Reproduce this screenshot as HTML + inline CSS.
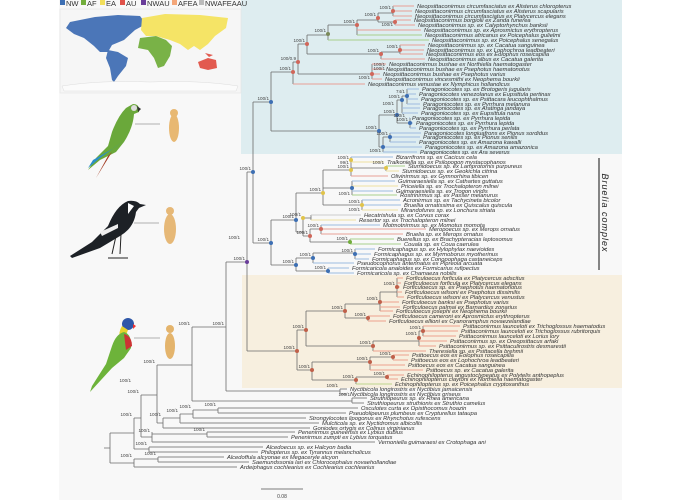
<!DOCTYPE html>
<html><head><meta charset="utf-8"><style>
html,body{margin:0;padding:0;background:#fff;}
svg{display:block;}
.l{font-family:"Liberation Sans",sans-serif;font-style:italic;font-size:5.8px;fill:#333;}
.s{font-family:"Liberation Sans",sans-serif;font-size:4.6px;fill:#444;}
</style></head><body>
<svg width="680" height="500" viewBox="0 0 680 500" xmlns="http://www.w3.org/2000/svg">
<rect x="59" y="0" width="563" height="500" fill="#f8f8f8"/>
<rect x="241" y="0" width="381" height="154" fill="#deedf0"/>
<rect x="242" y="275" width="380" height="113" fill="#f7efdf"/>
<!-- legend -->
<g font-family="Liberation Sans,sans-serif" font-size="7.5" fill="#333">
<rect x="60" y="0" width="5" height="5" fill="#3d6fb3"/><text x="66" y="6">NW</text>
<rect x="81" y="0" width="5" height="5" fill="#72ad3c"/><text x="87" y="6">AF</text>
<rect x="100" y="0" width="5" height="5" fill="#f2de5a"/><text x="106" y="6">EA</text>
<rect x="120" y="0" width="5" height="5" fill="#e0524a"/><text x="126" y="6">AU</text>
<rect x="141" y="0" width="5" height="5" fill="#6a3d9a"/><text x="147" y="6">NWAU</text>
<rect x="172" y="0" width="5" height="5" fill="#f4a77a"/><text x="178" y="6">AFEA</text>
<rect x="199" y="0" width="5" height="5" fill="#bbb"/><text x="205" y="6">NWAFEAAU</text>
</g>
<!-- map -->
<rect x="60" y="9" width="181" height="84" fill="#f6f6f6" stroke="#e4e4e4" stroke-width="0.6"/>
<path d="M70 22 L95 17 L118 15 L140 16 L146 24 L135 30 L124 40 L112 45 L108 52 L100 52 L94 46 L84 38 L74 34 L66 28Z" fill="#4b76b8"/>
<path d="M108 50 L118 52 L128 58 L126 66 L118 76 L114 82 L112 80 L110 68 L106 58Z" fill="#4b76b8"/>
<path d="M142 18 L165 14 L200 15 L228 18 L226 28 L215 36 L208 44 L200 50 L194 46 L188 50 L180 44 L170 40 L156 36 L146 36 L141 30Z" fill="#f5e466"/>
<path d="M140 38 L156 36 L166 40 L172 46 L170 56 L164 66 L158 68 L154 58 L148 50 L138 48Z" fill="#79b247"/>
<path d="M198 62 L208 58 L216 60 L217 68 L208 70 L200 68Z" fill="#e25a4f"/>
<path d="M205 53 L213 55 L209 57Z" fill="#e25a4f"/>
<path d="M62 86 Q100 80 150 82 Q200 80 238 86 L236 91 L64 91Z" fill="#fbfbfb" stroke="#ddd" stroke-width="0.5"/>
<!-- birds and lice -->
<g>
<path d="M133 104 Q140 104 139 112 L134 114 Q133 128 124 142 L116 152 L100 160 L88 170 L96 158 L108 146 L112 132 Q118 116 126 108Z" fill="#6aa83a"/>
<path d="M100 158 L88 168 L93 160 L114 148 L122 142Z" fill="#2b8fc8"/>
<path d="M108 156 L96 178 L112 152Z" fill="#a23b22"/>
<circle cx="134" cy="108" r="3" fill="#ddd"/><path d="M137 106 L141 109 L138 112Z" fill="#333"/>
<line x1="135" y1="124" x2="160" y2="124" stroke="#999" stroke-width="0.8"/>
<ellipse cx="174" cy="128" rx="5" ry="14" fill="#e8b872"/><circle cx="174" cy="113" r="4" fill="#e8b872"/>
</g>
<g>
<path d="M128 201 Q136 200 140 204 L146 205 L139 208 L136 212 Q134 228 120 236 L100 248 L72 258 L70 256 L92 242 L108 226 Q116 206 128 201Z" fill="#1d2126"/>
<path d="M100 232 L118 224 L118 228 L102 236Z" fill="#eee"/>
<path d="M128 203 L134 206 L128 214Z" fill="#fff"/>
<path d="M116 236 L112 254 M121 234 L120 254 M108 258 L128 258" stroke="#222" stroke-width="1"/>
<line x1="134" y1="223" x2="159" y2="223" stroke="#999" stroke-width="0.8"/>
<ellipse cx="170" cy="229" rx="6" ry="15" fill="#e6b877"/><circle cx="170" cy="211" r="4" fill="#e6b877"/>
</g>
<g>
<circle cx="128" cy="324" r="6" fill="#2f57a8"/>
<path d="M122 326 Q118 332 120 340 L124 340 L128 330Z" fill="#e6d22c"/>
<path d="M124 332 Q132 334 131 348 L124 358 L112 368 L90 392 L92 386 L106 364 L112 346 Q116 334 124 332Z" fill="#6db33a"/>
<path d="M124 334 Q132 336 132 346 L126 350Z" fill="#c33"/>
<path d="M133 324 L136 326 L133 329Z" fill="#e33"/>
<line x1="134" y1="338" x2="160" y2="338" stroke="#999" stroke-width="0.8"/>
<ellipse cx="170" cy="346" rx="5" ry="13" fill="#e4b46c"/><circle cx="170" cy="329" r="4" fill="#e4b46c"/>
</g>
<!-- internal branches -->
<g fill="none" stroke="#6b6b6b" stroke-width="0.8">
<path d="M104 448H110M110 433V463M110 433H134M110 463H134M134 418V449M134 449H149M149 447V452M134 459V467M134 459H158M158 457V462M134 418H141M141 395V437M141 437H152M152 432V442M152 434H207M207 432V437M141 395H157M157 365V423M157 423H163M163 418V428M163 418H180M180 414V423M180 414H193M193 410V418M193 410H218M218 408V413M157 365H192M192 327V401M192 401H352M352 398V403M192 327H226M226 262V391M226 391H340M340 389V394M226 262H247M247 172V351M247 351H297M247 172H253M253 102V243"/>
<path d="M253 102H271M271 72V131M271 72H293M293 62V84M293 62H298M298 44V74M298 74H372M372 64V79M298 44H307M307 35V54M307 54H381M381 52V59M381 52H400M400 45V54M307 35H328M328 25V40M328 25H357M357 20V35M357 20H378M378 13V22M378 22H395M395 20V25M378 13H393M393 6V16"/>
<path d="M271 131H379M379 115V147M379 115H397M397 100V123M397 100H402M402 96V113M402 96H407M407 89V104M397 123H410M410 118V128M379 147H383M383 137V152M383 137H390M390 133V142"/>
<path d="M253 243H271M271 220V265M271 220H296M296 193V232M296 193H323M323 170V205M323 170H351M351 157V176M351 168H386M386 166V171M323 188H352M352 181V195M323 205H362M362 200V210M296 232H303M303 218V236M303 218H311M311 215V220M303 236H310M310 229V242M310 229H321M321 225V234M310 242H350M350 239V244M271 265H296M296 258V271M296 258H313M313 253V263M313 253H355M355 249V259M296 271H328M328 268V273"/>
<path d="M297 330V370M297 330H306M306 311V346M306 311H345M345 304V318M345 304H380M380 292V311M380 292H397M397 278V297M345 318H368M368 316V321M306 346H373M373 341V351M373 341H419M419 331V346M419 331H423M423 326V336M297 370H312M312 362V380M312 362H370M370 357V370M370 357H393M393 355V360M312 380H356M356 377V384M356 377H387M387 375V379"/>
</g>
<!-- terminal branches -->
<g fill="none" stroke-width="0.9">
<path stroke="#e8a096" d="M393 6H414M393 11H412M393 16H412M395 20H411M395 25H415M357 30H421M400 45H425M400 50H424M400 54H423M381 59H425M372 64H386M372 69H383M372 74H380M372 79H382M293 84H365"/>
<path stroke="#a8cf8c" d="M357 35H422M328 40H429"/>
<path stroke="#9dbbe0" d="M407 89H419M407 94H416M407 99H418M407 104H420M402 108H420M402 113H418M410 118H409M410 123H413M410 128H416M390 133H421M390 137H420M390 142H416M383 147H422M383 152H417"/>
<path stroke="#9dbbe0" d="M351 157H393M352 181H395M352 191H393M362 200H400M362 205H401M321 225H380M355 249H375M355 254H371M355 259H369M313 263H354M328 268H349M328 273H354"/>
<path stroke="#eee0a0" d="M351 162H384M386 171H399M352 186H398M362 210H398M311 220H356"/>
<path stroke="#a8cf8c" d="M386 166H405M352 195H397M350 239H394M350 244H401"/>
<path stroke="#e8a096" d="M351 176H388M321 229H426M321 234H403"/>
<path stroke="#ccc" d="M311 215H361"/>
<path stroke="#eca18e" d="M397 278H403M397 283H401M397 287H400M397 292H402M397 297H404M380 302H399M380 307H400M380 311H393M368 316H390M368 321H386M423 326H460M423 331H458M423 336H456M419 341H447M419 346H436M373 351H426M393 355H409M393 360H408M370 365H405M370 370H423M387 375H404M387 379H398"/>
<path stroke="#bcd48c" d="M356 384H392"/>
<path stroke="#888" d="M340 389H347M340 394H347M352 398H367M352 403H364M218 408H358M218 413H346M193 418H306M180 423H319M163 428H310M207 432H295M207 437H288M152 442H375M149 447H263M149 452H258M158 457H224M158 462H249M134 467H237"/>
</g>
<!-- node dots -->
<g>
<circle cx="271" cy="102" r="2" fill="#3d6fb3"/><circle cx="293" cy="72" r="2" fill="#d0675a"/><circle cx="298" cy="62" r="2" fill="#d0675a"/><circle cx="307" cy="44" r="2" fill="#d0675a"/><circle cx="328" cy="34" r="2" fill="#7a8a5a"/><circle cx="357" cy="25" r="2" fill="#d0675a"/><circle cx="378" cy="18" r="2" fill="#d0675a"/><circle cx="393" cy="11" r="2" fill="#d0675a"/><circle cx="395" cy="22" r="2" fill="#d0675a"/><circle cx="381" cy="54" r="2" fill="#d0675a"/><circle cx="400" cy="50" r="2" fill="#d0675a"/><circle cx="372" cy="74" r="2" fill="#d0675a"/>
<circle cx="379" cy="131" r="2" fill="#3d6fb3"/><circle cx="397" cy="115" r="2" fill="#3d6fb3"/><circle cx="402" cy="100" r="2" fill="#3d6fb3"/><circle cx="407" cy="96" r="2" fill="#3d6fb3"/><circle cx="410" cy="123" r="2" fill="#3d6fb3"/><circle cx="383" cy="147" r="2" fill="#3d6fb3"/><circle cx="390" cy="137" r="2" fill="#3d6fb3"/>
<circle cx="253" cy="172" r="2" fill="#3d6fb3"/><circle cx="247" cy="262" r="2" fill="#6a3d9a"/><circle cx="271" cy="243" r="2" fill="#3d6fb3"/><circle cx="296" cy="220" r="2" fill="#3d6fb3"/><circle cx="323" cy="193" r="2" fill="#e0c34a"/><circle cx="351" cy="170" r="2" fill="#e0c34a"/><circle cx="351" cy="160" r="2" fill="#e0c34a"/><circle cx="386" cy="168" r="2" fill="#e0c34a"/><circle cx="352" cy="188" r="2" fill="#3d6fb3"/><circle cx="362" cy="205" r="2" fill="#e0c34a"/><circle cx="303" cy="218" r="2" fill="#e0c34a"/><circle cx="310" cy="236" r="2" fill="#d0675a"/><circle cx="321" cy="229" r="2" fill="#d0675a"/><circle cx="350" cy="242" r="2" fill="#72ad3c"/><circle cx="296" cy="265" r="2" fill="#3d6fb3"/><circle cx="313" cy="258" r="2" fill="#3d6fb3"/><circle cx="355" cy="254" r="2" fill="#3d6fb3"/><circle cx="328" cy="271" r="2" fill="#3d6fb3"/>
<circle cx="297" cy="351" r="2" fill="#c0604a"/><circle cx="306" cy="330" r="2" fill="#c0604a"/><circle cx="345" cy="311" r="2" fill="#c0604a"/><circle cx="380" cy="302" r="2" fill="#c0604a"/><circle cx="397" cy="287" r="2" fill="#c0604a"/><circle cx="368" cy="318" r="2" fill="#c0604a"/><circle cx="373" cy="346" r="2" fill="#c0604a"/><circle cx="419" cy="338" r="2" fill="#c0604a"/><circle cx="423" cy="331" r="2" fill="#c0604a"/><circle cx="312" cy="370" r="2" fill="#c0604a"/><circle cx="370" cy="362" r="2" fill="#c0604a"/><circle cx="393" cy="357" r="2" fill="#c0604a"/><circle cx="356" cy="380" r="2" fill="#c0604a"/><circle cx="387" cy="377" r="2" fill="#c0604a"/>
</g>
<!-- support labels -->
<g class="s" text-anchor="end">
<text x="269" y="100">100/1</text><text x="291" y="70">100/1</text><text x="296" y="60">100/0.9</text><text x="305" y="42">100/1</text><text x="326" y="32">100/1</text><text x="355" y="23">100/1</text><text x="376" y="16">100/1</text><text x="391" y="9">100/1</text><text x="393" y="26">100/1</text><text x="379" y="52">100/1</text><text x="398" y="48">100/1</text><text x="370" y="79">100/1</text><text x="385" y="66">100/1</text><text x="385" y="70">100/1</text>
<text x="377" y="129">100/1</text><text x="395" y="113">100/1</text><text x="400" y="98">100/1</text><text x="405" y="93">74/1</text><text x="408" y="121">100/1</text><text x="381" y="152">100/1</text><text x="388" y="135">100/1</text><text x="394" y="105">100/1</text><text x="405" y="117">100/1</text>
<text x="251" y="170">100/1</text><text x="245" y="260">100/1</text><text x="269" y="241">100/1</text><text x="294" y="218">100/1</text><text x="321" y="191">100/1</text><text x="349" y="159">100/1</text><text x="349" y="164">99/1</text><text x="349" y="168">100/1</text><text x="384" y="164">100/1</text><text x="350" y="195">100/1</text><text x="360" y="203">100/1</text><text x="360" y="211">100/1</text><text x="301" y="216">100/1</text><text x="308" y="234">100/1</text><text x="319" y="227">100/1</text><text x="348" y="240">100/1</text><text x="294" y="263">100/1</text><text x="311" y="256">100/1</text><text x="353" y="252">100/1</text><text x="326" y="269">100/1</text><text x="240" y="239">100/1</text>
<text x="295" y="349">100/1</text><text x="304" y="328">100/1</text><text x="343" y="309">100/1</text><text x="378" y="300">100/1</text><text x="395" y="285">100/1</text><text x="366" y="316">100/1</text><text x="371" y="344">100/1</text><text x="417" y="335">100/1</text><text x="421" y="329">100/1</text><text x="310" y="368">100/1</text><text x="368" y="360">100/1</text><text x="391" y="355">100/1</text><text x="354" y="378">100/1</text><text x="385" y="375">100/1</text>
<text x="224" y="325">100/1</text><text x="190" y="325">100/1</text><text x="155" y="363">100/1</text><text x="139" y="393">100/1</text><text x="338" y="387">100/1</text><text x="350" y="396">100/1</text><text x="216" y="406">100/1</text><text x="191" y="408">100/1</text><text x="178" y="412">100/1</text><text x="161" y="416">100/1</text><text x="205" y="431">100/1</text><text x="150" y="432">100/1</text><text x="147" y="445">100/1</text><text x="132" y="416">100/1</text><text x="132" y="457">100/1</text><text x="156" y="455">100/1</text><text x="131" y="382">100/1</text>
</g>
<!-- leaf labels -->
<g class="l">
<text x="417" y="8">Neopsittaconirmus circumfasciatus ex Alisterus chloropterus</text>
<text x="415" y="13">Neopsittaconirmus circumfasciatus ex Alisterus scapularis</text>
<text x="415" y="18">Neopsittaconirmus circumfasciatus ex Platycercus elegans</text>
<text x="414" y="22">Neopsittaconirmus borgiolii ex Zanda funerea</text>
<text x="418" y="27">Neopsittaconirmus sp. ex Calyptorhynchus banksii</text>
<text x="424" y="32">Neopsittaconirmus sp. ex Aprosmictus erythropterus</text>
<text x="425" y="37">Neopsittaconirmus africanus ex Poicephalus gulielmi</text>
<text x="432" y="42">Neopsittaconirmus sp. ex Poicephalus senegalus</text>
<text x="428" y="47">Neopsittaconirmus sp. ex Cacatua sanguinea</text>
<text x="427" y="52">Neopsittaconirmus sp. ex Lophochroa leadbeateri</text>
<text x="426" y="56">Neopsittaconirmus eos ex Eolophus roseicapilla</text>
<text x="428" y="61">Neopsittaconirmus albus ex Cacatua galerita</text>
<text x="389" y="66">Neopsittaconirmus bushae ex Northiella haematogaster</text>
<text x="386" y="71">Neopsittaconirmus bushae ex Psephotus haematonotus</text>
<text x="383" y="76">Neopsittaconirmus bushae ex Psephotus varius</text>
<text x="385" y="81">Neopsittaconirmus vincesmithi ex Neophema bourkii</text>
<text x="368" y="86">Neopsittaconirmus venustae ex Nymphicus hollandicus</text>
<text x="422" y="91">Paragoniocotes sp. ex Brotogeris jugularis</text>
<text x="419" y="96">Paragoniocotes venezolanus ex Eupsittula pertinax</text>
<text x="421" y="101">Paragoniocotes sp. ex Psittacara leucophthalmus</text>
<text x="423" y="106">Paragoniocotes sp. ex Pyrrhura melanura</text>
<text x="423" y="110">Paragoniocotes sp. ex Aratinga jandaya</text>
<text x="421" y="115">Paragoniocotes sp. ex Eupsittula nana</text>
<text x="412" y="120">Paragoniocotes sp. ex Pyrrhura lepida</text>
<text x="416" y="125">Paragoniocotes sp. ex Pyrrhura lepida</text>
<text x="419" y="130">Paragoniocotes sp. ex Pyrrhura perlata</text>
<text x="424" y="135">Paragoniocotes longiuafrons ex Pionus sordidus</text>
<text x="423" y="139">Paragoniocotes sp. ex Pionus senilis</text>
<text x="419" y="144">Paragoniocotes sp. ex Amazona kawalli</text>
<text x="425" y="149">Paragoniocotes sp. ex Amazona amazonica</text>
<text x="420" y="154">Paragoniocotes sp. ex Ara severus</text>
<text x="396" y="159">Bizarrifrons sp. ex Cacicus cela</text>
<text x="387" y="164">Tralkoniella sp. ex Psilopogon mystacophanos</text>
<text x="408" y="168">Sturnidoecus sp. ex Lamprotornis purpureus</text>
<text x="402" y="173">Sturnidoecus sp. ex Geokichla citrina</text>
<text x="391" y="178">Olivinirmus sp. ex Gymnorhina tibicen</text>
<text x="398" y="183">Guimaraesiella sp. ex Cathartes guttatus</text>
<text x="401" y="188">Priceiella sp. ex Trochalopteron milnei</text>
<text x="396" y="193">Guimaraesiella sp. ex Trogon viridis</text>
<text x="400" y="197">Rostrinirmus sp. ex Passer melanurus</text>
<text x="403" y="202">Acronirmus sp. ex Tachycineta bicolor</text>
<text x="404" y="207">Bruellia ornatissima ex Quiscalus quiscula</text>
<text x="401" y="212">Mirandofures sp. ex Lonchura striata</text>
<text x="364" y="217">Hecatrishula sp. ex Corvus corax</text>
<text x="359" y="222">Resertor sp. ex Trochalopteron milnei</text>
<text x="383" y="227">Motmotnirmus sp. ex Momotus momota</text>
<text x="429" y="231">Meropoecus sp. ex Merops ornatus</text>
<text x="406" y="236">Bruelia sp. ex Merops ornatus</text>
<text x="397" y="241">Buerellus sp. ex Brachypteracias leptosomus</text>
<text x="404" y="246">Couala sp. ex Coua caerulea</text>
<text x="378" y="251">Formicaphagus sp. ex Hylophylax naevioides</text>
<text x="374" y="256">Formicaphagus sp. ex Myrmoborus myotherinus</text>
<text x="372" y="261">Formicaphagus sp. ex Conopophaga castaneiceps</text>
<text x="357" y="265">Pseudocophorus antennatus ex Pipreola arcuata</text>
<text x="352" y="270">Formicaricola analoides ex Formicarius rufipectus</text>
<text x="357" y="275">Formicaricola sp. ex Chamaeza nobilis</text>
<text x="406" y="280">Forficuloecus forficula ex Platycercus adscitus</text>
<text x="404" y="285">Forficuloecus forficula ex Platycercus elegans</text>
<text x="403" y="289">Forficuloecus sp. ex Psephotus haematonotus</text>
<text x="405" y="294">Forficuloecus wilsoni ex Psephotus dissimilis</text>
<text x="407" y="299">Forficuloecus wilsoni ex Platycercus venustus</text>
<text x="402" y="304">Forficuloecus banksi ex Psephotus varius</text>
<text x="403" y="309">Forficuloecus palmai ex Barnardius zonarius</text>
<text x="396" y="313">Forficuloecus josephi ex Neophema bourkii</text>
<text x="393" y="318">Forficuloecus cameroni ex Aprosmictus erythropterus</text>
<text x="389" y="323">Forficuloecus ellioni ex Cyanoramphus novaezelandiae</text>
<text x="463" y="328">Psittaconirmus launceloti ex Trichoglossus haematodus</text>
<text x="461" y="333">Psittaconirmus launceloti ex Trichoglossus rubritorquis</text>
<text x="459" y="338">Psittaconirmus launceloti ex Lorius lory</text>
<text x="450" y="343">Psittaconirmus sp. ex Oreopsittacus arfaki</text>
<text x="439" y="348">Psittaconirmus sp. ex Psittaculirostris desmarestii</text>
<text x="429" y="353">Theresiella sp. ex Psittacella brehmii</text>
<text x="412" y="357">Psittoecus eos ex Eolophus roseicapilla</text>
<text x="411" y="362">Psittoecus eos ex Lophochroa leadbeateri</text>
<text x="408" y="367">Psittoecus eos ex Cacatua sanguinea</text>
<text x="426" y="372">Psittoecus sp. ex Cacatua galerita</text>
<text x="407" y="377">Echinophilopterus angustoclypeatus ex Polytelis anthopeplus</text>
<text x="401" y="381">Echinophilopterus claytoni ex Northiella haematogaster</text>
<text x="395" y="386">Echinophilopterus sp. ex Poicephalus cryptoxanthus</text>
<text x="350" y="391">Nyctibicola longirostris ex Nyctibius jamaicensis</text>
<text x="350" y="396">Nyctibicola longirostris ex Nyctibius griseus</text>
<text x="370" y="400">Struthiopeurus sp. ex Rhea americana</text>
<text x="367" y="405">Struthiopeurus struthionis ex Struthio camelus</text>
<text x="361" y="410">Osculotes curta ex Opisthocomus hoazin</text>
<text x="349" y="415">Pseudolipeurus plumbeus ex Crypturellus tataupa</text>
<text x="309" y="420">Strongylocotes lipogonus ex Rhynchotus rufescens</text>
<text x="322" y="425">Mulcticola sp. ex Nyctidromus albicollis</text>
<text x="313" y="430">Goniodes ortygis ex Colinus virginianus</text>
<text x="298" y="434">Penenirmus guineensis ex Lybius dubius</text>
<text x="291" y="439">Penenirmus zumpti ex Lybius torquatus</text>
<text x="378" y="444">Vernoniella guimaraesi ex Crotophaga ani</text>
<text x="266" y="449">Alcedoecus sp. ex Halcyon badia</text>
<text x="261" y="454">Philopterus sp. ex Tyrannus melancholicus</text>
<text x="227" y="459">Alcedoffula alcyonae ex Megaceryle alcyon</text>
<text x="252" y="464">Saemundssonia lari ex Chlorocephalus novaehollandiae</text>
<text x="240" y="469">Ardeiphagus cochlearius ex Cochlearius cochlearius</text>
</g>
<!-- Bruelia complex -->
<line x1="599" y1="158" x2="599" y2="270" stroke="#111" stroke-width="1"/>
<text transform="translate(602,213) rotate(90)" text-anchor="middle" font-family="Liberation Sans,sans-serif" font-style="italic" font-size="9" letter-spacing="1" fill="#222">Bruelia complex</text>
<!-- scale -->
<line x1="261" y1="489" x2="303" y2="489" stroke="#555" stroke-width="0.8"/>
<text x="282" y="498" text-anchor="middle" font-family="Liberation Sans,sans-serif" font-size="5" fill="#444">0.08</text>
</svg>
</body></html>
